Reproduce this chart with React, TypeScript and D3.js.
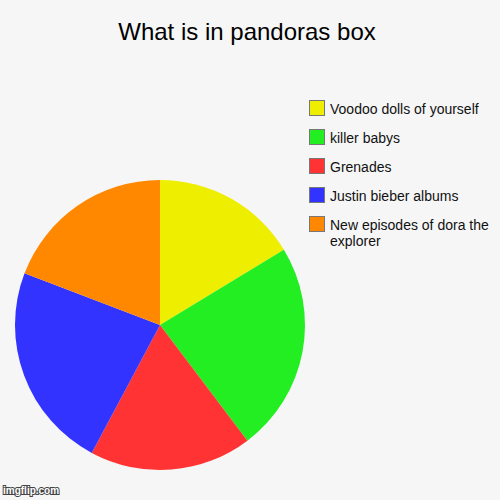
import React, { useEffect, useRef } from "react";
import * as d3 from "d3";

const categories = [
  "Voodoo dolls of yourself",
  "killer babys",
  "Grenades",
  "Justin bieber albums",
  "New episodes of dora the explorer",
];
const values = [16.3, 23.4, 18.1, 23.0, 19.2];
const colors = ["#eeee00", "#22ee22", "#ff3333", "#3333ff", "#ff8800"];
const legendLines = [
  ["Voodoo dolls of yourself"],
  ["killer babys"],
  ["Grenades"],
  ["Justin bieber albums"],
  ["New episodes of dora the", "explorer"],
];
const title = "What is in pandoras box";

export default function App() {
  const ref = useRef<SVGSVGElement>(null);
  useEffect(() => {
    const svg = d3.select(ref.current);
    svg.selectAll("*").remove();
    const W = 500, H = 500;
    svg.append("rect").attr("width", W).attr("height", H).attr("fill", "#f6f6f6");
    const font = "'Liberation Sans', Arial, sans-serif";

    svg.append("text").attr("x", 247).attr("y", 40).attr("text-anchor", "middle")
      .attr("font-family", font).attr("font-size", 24).attr("fill", "#000").text(title);

    const data = categories.map((c, i) => ({ c, v: values[i], col: colors[i] }));
    const pie = d3.pie<any>().sort(null).value((d) => d.v);
    const arc = d3.arc<any>().innerRadius(0).outerRadius(145);
    const g = svg.append("g").attr("transform", "translate(160,325)");
    g.selectAll("path").data(pie(data)).enter().append("path")
      .attr("d", arc).attr("fill", (d: any) => d.data.col);

    const leg = svg.append("g");
    data.forEach((d, i) => {
      const y = 100 + i * 29;
      leg.append("rect").attr("x", 309.5).attr("y", y + 0.5).attr("width", 15).attr("height", 15)
        .attr("fill", d.col).attr("stroke", "#777").attr("stroke-width", 1);
      legendLines[i].forEach((ln, j) => {
        leg.append("text").attr("x", 330).attr("y", y + 13.5 + j * 16)
          .attr("font-family", font).attr("font-size", 14).attr("fill", "#111").text(ln);
      });
    });

    svg.append("text").attr("x", 3).attr("y", 494).attr("font-family", font)
      .attr("font-size", 10).attr("font-weight", "bold").attr("fill", "#fff")
      .attr("stroke", "#444").attr("stroke-width", 2).attr("paint-order", "stroke")
      .text("imgflip.com");
  }, []);
  return (
    <svg ref={ref} width={500} height={500}
      style={{ position: "absolute", left: 0, top: 0, display: "block" }} />
  );
}
